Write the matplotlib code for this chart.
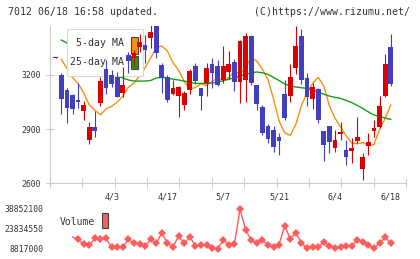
import matplotlib
matplotlib.use("Agg")
import matplotlib.pyplot as plt
import numpy as np
from matplotlib.patches import Rectangle
from matplotlib.transforms import Affine2D, blended_transform_factory

# ---------------- data ----------------
opens = [3296, 3200, 3116, 3089, 3061, 3002, 2840, 2913, 3043, 3233,
         3199, 3190, 3101, 3310, 3292, 3354, 3365, 3403, 3475, 3255,
         3190, 3094, 3083, 3033, 3116, 3249, 3126, 3157, 3260, 3249,
         3172, 3218, 3273, 3162, 3172, 3415, 3144, 3021, 2917, 2895,
         2858, 3094, 3083, 3240, 3415, 3181, 3067, 3120, 2891, 2917,
         2794, 2873, 2784, 2780, 2836, 2677, 2808, 2890, 2913, 3083, 3353]
highs = [3298, 3209, 3126, 3094, 3153, 3056, 2941, 3002, 3190, 3282,
         3227, 3215, 3245, 3328, 3338, 3426, 3421, 3476, 3500, 3264,
         3199, 3172, 3139, 3113, 3231, 3268, 3129, 3268, 3295, 3283,
         3360, 3332, 3286, 3393, 3434, 3421, 3144, 3033, 2928, 2917,
         2880, 3172, 3260, 3470, 3452, 3209, 3153, 3126, 2891, 2917,
         2895, 2941, 2840, 2849, 2969, 2766, 2877, 2950, 3083, 3316, 3426]
lows = [3296, 2984, 2935, 2984, 3015, 2950, 2818, 2858, 3028, 3094,
        3135, 3076, 3079, 3209, 3245, 3327, 3264, 3347, 3292, 3101,
        3052, 3089, 2969, 3006, 3094, 3150, 3006, 3083, 3126, 3139,
        3157, 3176, 3113, 3046, 3052, 3144, 3006, 2867, 2825, 2775,
        2757, 2950, 3052, 3205, 3150, 3028, 3010, 2935, 2725, 2769,
        2775, 2840, 2701, 2711, 2825, 2618, 2757, 2855, 2904, 3076, 3140]
closes = [3298, 3067, 3015, 3010, 3050, 3033, 2913, 2891, 3168, 3126,
          3148, 3076, 3144, 3279, 3320, 3382, 3338, 3439, 3320, 3181,
          3061, 3129, 3135, 3101, 3222, 3168, 3083, 3240, 3212, 3144,
          3249, 3260, 3162, 3389, 3415, 3157, 3039, 2880, 2844, 2803,
          2836, 2960, 3187, 3360, 3172, 3079, 3135, 2950, 2812, 2830,
          2840, 2885, 2747, 2793, 2858, 2747, 2830, 2904, 3028, 3260, 3150]

# moving averages as drawn (positions 1..60)
ma5 = [3286, 3236, 3185, 3153, 3100, 3035, 3004, 2979, 3011, 3026,
       3049, 3082, 3132, 3155, 3193, 3240, 3293, 3352, 3360, 3332,
       3268, 3226, 3165, 3121, 3130, 3151, 3142, 3163, 3185, 3169,
       3186, 3221, 3205, 3241, 3295, 3277, 3232, 3176, 3067, 2945,
       2880, 2865, 2926, 3029, 3103, 3152, 3187, 3139, 3030, 2961,
       2913, 2863, 2823, 2819, 2825, 2810, 2815, 2900, 2960, 3033]
ma25 = [3393, 3377, 3360, 3338, 3316, 3294, 3271, 3249, 3227, 3210,
        3194, 3183, 3172, 3166, 3166, 3166, 3169, 3183, 3187, 3183,
        3176, 3172, 3166, 3159, 3153, 3153, 3153, 3155, 3161, 3168,
        3176, 3185, 3194, 3203, 3212, 3216, 3212, 3203, 3186, 3169,
        3150, 3139, 3133, 3129, 3125, 3116, 3105, 3094, 3083, 3076,
        3070, 3059, 3047, 3031, 3014, 2995, 2978, 2970, 2961, 2954]

# volume (days 3..60)
volume = [17720000, 15990000, 12210000, 11460000, 16590000, 16450000, 16600000,
          10020000, 9800000, 9800000, 15990000, 13120000, 12210000, 10930000,
          15840000, 12820000, 20890000, 13190000, 10020000, 18630000, 13040000,
          17870000, 10930000, 11310000, 11990000, 9720000, 8817000, 15610000,
          11990000, 12100000, 38852100, 23160000, 15310000, 13040000, 15610000,
          11530000, 10020000, 12060000, 26250000, 16360000, 20890000, 13040000,
          9270000, 10020000, 10020000, 13950000, 10780000, 9570000, 10330000,
          10780000, 10780000, 15610000, 13800000, 11530000, 9500000, 13040000,
          17570000, 13040000]

date_labels = ["4/3", "4/17", "5/7", "5/21", "6/4", "6/18"]
date_pos = [10, 20, 30, 40, 50, 60]
price_ticks = [2600, 2900, 3200]

title_left = "7012 06/18 16:58 updated."
title_right = "(C)https://www.rizumu.net/"

# ---------------- style ----------------
UP = "#dc0000"
DOWN = "#4040c0"
C_MA5 = "#f5900a"
C_MA25 = "#14a014"
C_VOL = "#ff5c5c"
GRID = "#cccccc"
TXT = "#333333"
FONT = "DejaVu Sans Mono"

W, H = 420, 259
fig = plt.figure(figsize=(W / 100, H / 100), dpi=100)
pix = Affine2D().scale(1, -1).translate(0, H)  # top-left pixel coords


def frac(x0, y0, x1, y1):
    return [x0 / W, 1 - y1 / H, (x1 - x0) / W, (y1 - y0) / H]


def prect(x0, y0, x1, y1, **kw):
    # rectangle given in top-left pixel coordinates
    return Rectangle((x0, y0), x1 - x0, y1 - y0, transform=pix,
                     clip_on=False, **kw)


XL = (-1.03, 62.73)
ax = fig.add_axes(frac(50, 25.5, 406, 183.3))
ax.set_xlim(*XL)
ax.set_ylim(2600, 3473.5)
for s in ["top", "right"]:
    ax.spines[s].set_visible(False)
for s in ["left", "bottom"]:
    ax.spines[s].set_color(GRID)
    ax.spines[s].set_linewidth(0.8)

ax.set_yticks(price_ticks)
ax.set_yticklabels([str(v) for v in price_ticks], fontfamily=FONT,
                   fontsize=5.9, color=TXT)
ax.tick_params(axis="y", direction="inout", length=6, width=0.8,
               color=GRID, pad=3.5)
ax.set_xticks(np.linspace(XL[0], XL[1], 12))
ax.set_xticklabels([])
ax.tick_params(axis="x", direction="inout", length=7, width=0.8, color=GRID)

# candles
n = len(closes)
bw = 0.86
for i in range(n):
    o, h, l, c = opens[i], highs[i], lows[i], closes[i]
    col = UP if c >= o else DOWN
    ax.vlines(i, l, h, color=col, lw=0.8, zorder=3)
    bottom = min(o, c)
    height = max(abs(c - o), 5)
    ax.add_patch(Rectangle((i - bw / 2, bottom), bw, height, facecolor=col,
                           edgecolor="none", zorder=3.1))

xs = list(range(1, 61))
ax.plot(xs, ma5, color=C_MA5, lw=1.0, zorder=2)
ax.plot(xs, ma25, color=C_MA25, lw=1.0, zorder=2)

# legend box (below candles, above MA lines)
ax.add_patch(prect(66.7, 29, 142.7, 75.7, facecolor="white",
                   edgecolor="#d8d8d8", lw=0.8, zorder=2.5))
ax.text(123.8, 42.5, "5-day MA", transform=pix, ha="right", va="center",
        fontfamily=FONT, fontsize=7.1, color=TXT, zorder=2.6)
ax.text(123.8, 61.7, "25-day MA", transform=pix, ha="right", va="center",
        fontfamily=FONT, fontsize=7.1, color=TXT, zorder=2.6)
ax.add_patch(prect(131, 37.3, 137.7, 54, facecolor=C_MA5,
                   edgecolor="#444444", lw=0.8, zorder=2.6))
ax.add_patch(prect(131, 55.7, 137.7, 69.3, facecolor=C_MA25,
                   edgecolor="#444444", lw=0.8, zorder=2.6))

# date labels
bt = blended_transform_factory(ax.transData, pix)
for p, lab in zip(date_pos, date_labels):
    ax.text(p, 197.5, lab, transform=bt, ha="center", va="center",
            fontfamily=FONT, fontsize=6.0, color=TXT)

# volume panel
axv = fig.add_axes(frac(50, 209, 406, 248.8))
axv.set_xlim(*XL)
vmin, vmax = min(volume), max(volume)
axv.set_ylim(vmin, vmax)
for s in axv.spines.values():
    s.set_visible(False)
axv.set_xticks([])
vt = [vmin, (vmin + vmax) / 2, vmax]
axv.set_yticks(vt)
axv.set_yticklabels([str(int(round(v))) for v in vt], fontfamily=FONT,
                    fontsize=5.8, color=TXT)
axv.tick_params(axis="y", length=0, pad=4.8)
vx = list(range(3, 61))
axv.plot(vx, volume, color=C_VOL, lw=1.0, marker="D", markersize=4.2,
         markeredgewidth=0, markevery=list(range(1, len(vx))), clip_on=False)
axv.text(59.3, 222, "Volume", transform=pix, ha="left", va="center",
         fontfamily=FONT, fontsize=7.0, color=TXT)
axv.add_patch(prect(101.7, 213.3, 108.3, 228.3, facecolor=C_VOL,
                    edgecolor="#444444", lw=0.8))

# header
fig.text(8.3 / W, 1 - 12 / H, title_left, ha="left", va="center",
         fontfamily=FONT, fontsize=7.1, color=TXT)
fig.text(409.5 / W, 1 - 12 / H, title_right, ha="right", va="center",
         fontfamily=FONT, fontsize=7.1, color=TXT)

fig.savefig("out.png", dpi=100)
